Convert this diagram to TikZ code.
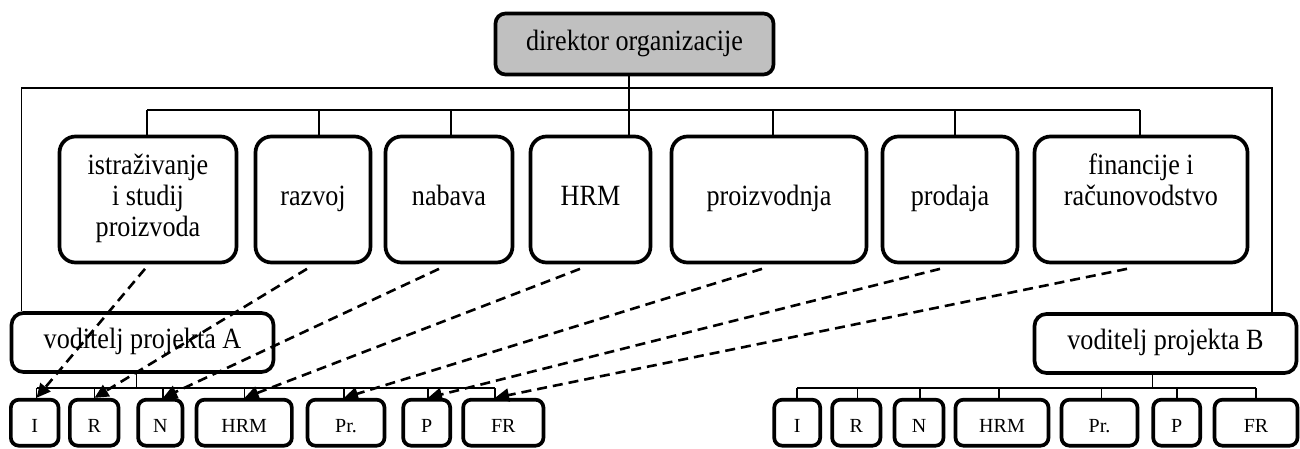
\documentclass[tikz,border=0pt]{standalone}
\usepackage{fontspec}
\setmainfont{Liberation Serif}[FakeStretch=0.89]
\newfontfamily\unitfont{Liberation Serif}
\usetikzlibrary{arrows.meta,calc}
\definecolor{dirgray}{RGB}{192,192,192}
\begin{document}
\begin{tikzpicture}[x=0.5pt,y=-0.5pt,
  box/.style={draw,line width=1.85pt,inner sep=0pt,align=center,font=\fontsize{14.7}{15.35}\selectfont},
  dept/.style={box,rounded corners=8pt,minimum height=63pt},
  head/.style={box,rounded corners=5pt,minimum height=30.5pt,minimum width=139pt,fill=dirgray},
  lead/.style={box,rounded corners=6pt,minimum height=29.5pt,minimum width=131pt},
  unit/.style={box,rounded corners=4pt,minimum height=23pt,font=\unitfont\fontsize{10}{12}\selectfont,text height=9.6pt,text depth=0pt},
  conn/.style={line width=0.7pt},
  bus/.style={line width=0.95pt},
  dasharrow/.style={line width=1.3pt,dash pattern=on 5pt off 3pt,-{Triangle[length=7pt,width=6.5pt]}}
]
\useasboundingbox (0,0) rectangle (1300,449);

% top
\node[head] (dir) at (634.5,44) {\strut direktor organizacije};

% departments
\node[dept,minimum width=88.5pt] (ist) at (148,199.5) {\strut istraživanje\\\strut i studij\\\strut proizvoda};
\node[dept,minimum width=57.5pt] (raz) at (313,199.5) {\strut razvoj};
\node[dept,minimum width=63.5pt] (nab) at (449,199.5) {\strut nabava};
\node[dept,minimum width=60pt] (hrm) at (590.5,199.5) {\strut HRM};
\node[dept,minimum width=97.5pt] (pro) at (769,199.5) {\strut proizvodnja};
\node[dept,minimum width=67.5pt] (prd) at (950,199.5) {\strut prodaja};
\node[dept,minimum width=106.5pt] (fin) at (1141,199.5) {\strut financije i\\\strut računovodstvo\\\strut};

% project leaders
\node[lead] (vA) at (142.5,342.5) {\strut voditelj projekta A};
\node[lead] (vB) at (1165.5,343.5) {\strut voditelj projekta B};

% project A units
\node[unit,minimum width=23.85pt] (aI) at (34.7,422.7) {I};
\node[unit,minimum width=24.35pt] (aR) at (94.2,422.7) {R};
\node[unit,minimum width=22.15pt] (aN) at (160.3,422.7) {N};
\node[unit,minimum width=47.65pt] (aH) at (244.2,422.7) {HRM};
\node[unit,minimum width=38.5pt] (aPr) at (346,422.7) {Pr.};
\node[unit,minimum width=23.5pt] (aP) at (426.7,422.7) {P};
\node[unit,minimum width=40.15pt] (aF) at (503.3,422.7) {FR};

% project B units
\node[unit,minimum width=23pt] (bI) at (797.2,422.7) {I};
\node[unit,minimum width=24.15pt] (bR) at (856.3,422.7) {R};
\node[unit,minimum width=24.5pt] (bN) at (919,422.7) {N};
\node[unit,minimum width=46.5pt] (bH) at (1002,422.7) {HRM};
\node[unit,minimum width=38pt] (bPr) at (1099.5,422.7) {Pr.};
\node[unit,minimum width=23.5pt] (bP) at (1176.7,422.7) {P};
\node[unit,minimum width=41.5pt] (bF) at (1256,422.7) {FR};

% coordinates
\coordinate (fl) at (21.7,88);
\coordinate (fr) at (1272,88);
\coordinate (dl) at (629,110);
\coordinate (d1) at (147,110);
\coordinate (d2) at (319,110);
\coordinate (d3) at (451,110);
\coordinate (d5) at (773,110);
\coordinate (d6) at (955,110);
\coordinate (d7) at (1140,110);

\coordinate (va) at (136.7,388.3);
\coordinate (a1) at (36.5,388.3);
\coordinate (a2) at (94.5,388.3);
\coordinate (a3) at (163,388.3);
\coordinate (a4) at (244.6,388.3);
\coordinate (a5) at (344,388.3);
\coordinate (a6) at (428,388.3);
\coordinate (a7) at (495,388.3);

\coordinate (vb) at (1152.7,388.3);
\coordinate (b1) at (797,388.3);
\coordinate (b2) at (857.7,388.3);
\coordinate (b3) at (920,388.3);
\coordinate (b4) at (999,388.3);
\coordinate (b5) at (1101.7,388.3);
\coordinate (b6) at (1177,388.3);
\coordinate (b7) at (1256,388.3);

% outer frame
\draw[conn] (vA.north -| fl) -- (fl) -- (fr) -- (vB.north -| fr);
% director line
\draw[conn] (dir.south -| dl) -- (hrm.north -| dl);
% department bus
\draw[conn] (d1) -- (d7);
\draw[conn] (d1) -- (ist.north -| d1);
\draw[conn] (d2) -- (raz.north -| d2);
\draw[conn] (d3) -- (nab.north -| d3);
\draw[conn] (d5) -- (pro.north -| d5);
\draw[conn] (d6) -- (prd.north -| d6);
\draw[conn] (d7) -- (fin.north -| d7);

% project A bus
\draw[conn] (vA.south -| va) -- (va);
\draw[bus] (a1) -- (a7);
\draw[conn] (a1) -- (aI.north -| a1);
\draw[conn] (a2) -- (aR.north -| a2);
\draw[conn] (a3) -- (aN.north -| a3);
\draw[conn] (a4) -- (aH.north -| a4);
\draw[conn] (a5) -- (aPr.north -| a5);
\draw[conn] (a6) -- (aP.north -| a6);
\draw[conn] (a7) -- (aF.north -| a7);

% project B bus
\draw[conn] (vB.south -| vb) -- (vb);
\draw[bus] (b1) -- (b7);
\draw[conn] (b1) -- (bI.north -| b1);
\draw[conn] (b2) -- (bR.north -| b2);
\draw[conn] (b3) -- (bN.north -| b3);
\draw[conn] (b4) -- (bH.north -| b4);
\draw[conn] (b5) -- (bPr.north -| b5);
\draw[conn] (b6) -- (bP.north -| b6);
\draw[conn] (b7) -- (bF.north -| b7);

% dashed assignments
\draw[dasharrow] ($(ist.south)+(-3,4.5)$) -- (aI.north -| a1);
\draw[dasharrow] ($(raz.south)+(-6,4.5)$) -- (aR.north -| a2);
\draw[dasharrow] ($(nab.south)+(-10,4.5)$) -- (aN.north -| a3);
\draw[dasharrow] ($(hrm.south)+(-10.5,4.5)$) -- (aH.north -| a4);
\draw[dasharrow] ($(pro.south)+(-7,4.5)$) -- (aPr.north -| a5);
\draw[dasharrow] ($(prd.south)+(-10,4.5)$) -- (aP.north -| a6);
\draw[dasharrow] ($(fin.south)+(-14,4.5)$) -- (aF.north -| a7);
\end{tikzpicture}
\end{document}
